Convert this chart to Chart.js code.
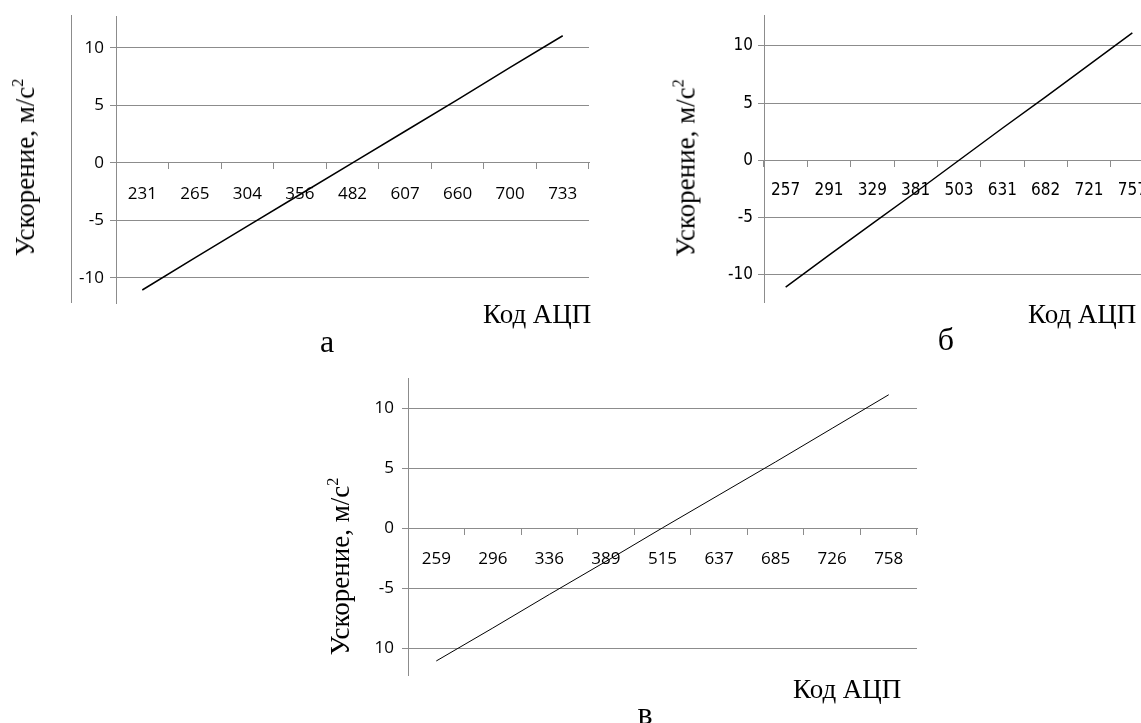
<!DOCTYPE html>
<html>
<head>
<meta charset="utf-8">
<script src="https://cdn.jsdelivr.net/npm/chart.js@4"></script>
<style>
    body { margin: 0; width: 1141px; height: 723px; overflow: hidden; background: #fff; position: relative; }
    canvas { position: absolute; }
    .t { position: absolute; font-family: "Liberation Serif", "Times New Roman", serif; font-size: 27px; line-height: 1; color: #000; white-space: nowrap; }
    .t sup { font-size: 0.6em; line-height: 0; vertical-align: 0.65em; }
    .yt { left: 0; top: 0; transform-origin: 0 0; }
    .letter { font-size: 32px; transform: translateX(-50%); }
    .frame { position: absolute; width: 1px; background: #8c8c8c; }
</style>
</head>
<body>
<canvas id="chartA" width="600" height="330" style="left:0px; top:0px;"></canvas>
<canvas id="chartB" width="540" height="330" style="left:640px; top:0px;"></canvas>
<canvas id="chartV" width="640" height="340" style="left:300px; top:360px;"></canvas>

<div class="frame" style="left:71px; top:15px; height:288px;"></div>

<div class="t yt" style="transform: translate(25.5px, 167.5px) rotate(-90deg) translate(-50%, -50%);">Ускорение, м/с<sup>2</sup></div>
<div class="t yt" style="transform: translate(686px, 168px) rotate(-90deg) translate(-50%, -50%);">Ускорение, м/с<sup>2</sup></div>
<div class="t yt" style="transform: translate(340px, 566.5px) rotate(-90deg) translate(-50%, -50%);">Ускорение, м/с<sup>2</sup></div>

<div class="t" style="left:483px; top:301px;">Код АЦП</div>
<div class="t" style="left:1028px; top:301px;">Код АЦП</div>
<div class="t" style="left:793px; top:676px;">Код АЦП</div>

<div class="t letter" style="left:327px; top:325px;">а</div>
<div class="t letter" style="left:946px; top:323px;">б</div>
<div class="t letter" style="left:645px; top:697px;">в</div>

<script>
// ADC codes (categories) and acceleration, m/s^2, for each calibration
var labelsA = ['231', '265', '304', '356', '482', '607', '660', '700', '733'];
var valuesA = [-11.05, -8.25, -5.5, -2.75, 0, 2.75, 5.5, 8.3, 11.05];

var labelsB = ['257', '291', '329', '381', '503', '631', '682', '721', '757'];
var valuesB = [-11.1, -8.3, -5.55, -2.8, 0, 2.8, 5.55, 8.35, 11.15];

var labelsV = ['259', '296', '336', '389', '515', '637', '685', '726', '758'];
var valuesV = [-11.05, -8.3, -5.5, -2.75, 0.05, 2.8, 5.55, 8.35, 11.15];

// y ticks and the text printed next to them (chart "в" shows "10" at the bottom)
var yTickValues = [-10, -5, 0, 5, 10];
var yTickTextA = ['-10', '-5', '0', '5', '10'];
var yTickTextB = ['-10', '-5', '0', '5', '10'];
var yTickTextV = ['10', '-5', '0', '5', '10'];

var gridColor = '#8c8c8c';

function makeChart(id, labels, values, tickText, opts) {
    var ctx = document.getElementById(id).getContext('2d');
    return new Chart(ctx, {
        type: 'line',
        data: {
            labels: labels,
            datasets: [{
                data: values,
                borderColor: '#000',
                borderWidth: opts.lineWidth,
                pointRadius: 0,
                fill: false,
                tension: 0
            }]
        },
        options: {
            responsive: false,
            animation: false,
            layout: { padding: opts.padding },
            plugins: {
                legend: { display: false },
                tooltip: { enabled: false }
            },
            scales: {
                x: {
                    type: 'category',
                    offset: true,
                    position: { y: 0 }, // category axis crosses at zero
                    grid: { offset: true, drawOnChartArea: false, drawTicks: true, tickLength: 6, color: gridColor },
                    border: { color: gridColor, width: 1 },
                    ticks: { font: opts.tickFont, color: '#000', padding: opts.xPad, maxRotation: 0, autoSkip: false },
                    afterFit: function (s) { s.height = 0; }
                },
                y: {
                    min: opts.min,
                    max: opts.max,
                    afterBuildTicks: function (s) {
                        s.ticks = yTickValues.map(function (v) { return { value: v }; });
                    },
                    afterFit: function (s) { s.width = opts.yWidth; },
                    grid: { color: gridColor, tickLength: 6, drawTicks: true },
                    border: { color: gridColor },
                    ticks: {
                        font: opts.tickFont,
                        color: '#000',
                        padding: opts.yPad,
                        callback: function (v, i) { return tickText[i]; }
                    }
                }
            }
        }
    });
}

var wideFont = { family: '"Open Sans", sans-serif', size: 17 };
var narrowFont = { family: '"Liberation Sans Narrow", "DejaVu Sans Condensed", "Open Sans", sans-serif', size: 17 };

makeChart('chartA', labelsA, valuesA, yTickTextA, {
    padding: { left: 0, top: 15, right: 11, bottom: 27 },
    yWidth: 116, min: -12.18, max: 12.75,
    lineWidth: 1.5, tickFont: wideFont, xPad: 15, yPad: 6
});

makeChart('chartB', labelsB, valuesB, yTickTextB, {
    padding: { left: 0, top: 15, right: 26, bottom: 28 },
    yWidth: 124, min: -12.4, max: 12.69,
    lineWidth: 1.5, tickFont: narrowFont, xPad: 14, yPad: 5
});

makeChart('chartV', labelsV, valuesV, yTickTextV, {
    padding: { left: 0, top: 17, right: 23, bottom: 25 },
    yWidth: 108, min: -12.22, max: 12.53,
    lineWidth: 1, tickFont: wideFont, xPad: 14, yPad: 8
});
</script>
</body>
</html>
